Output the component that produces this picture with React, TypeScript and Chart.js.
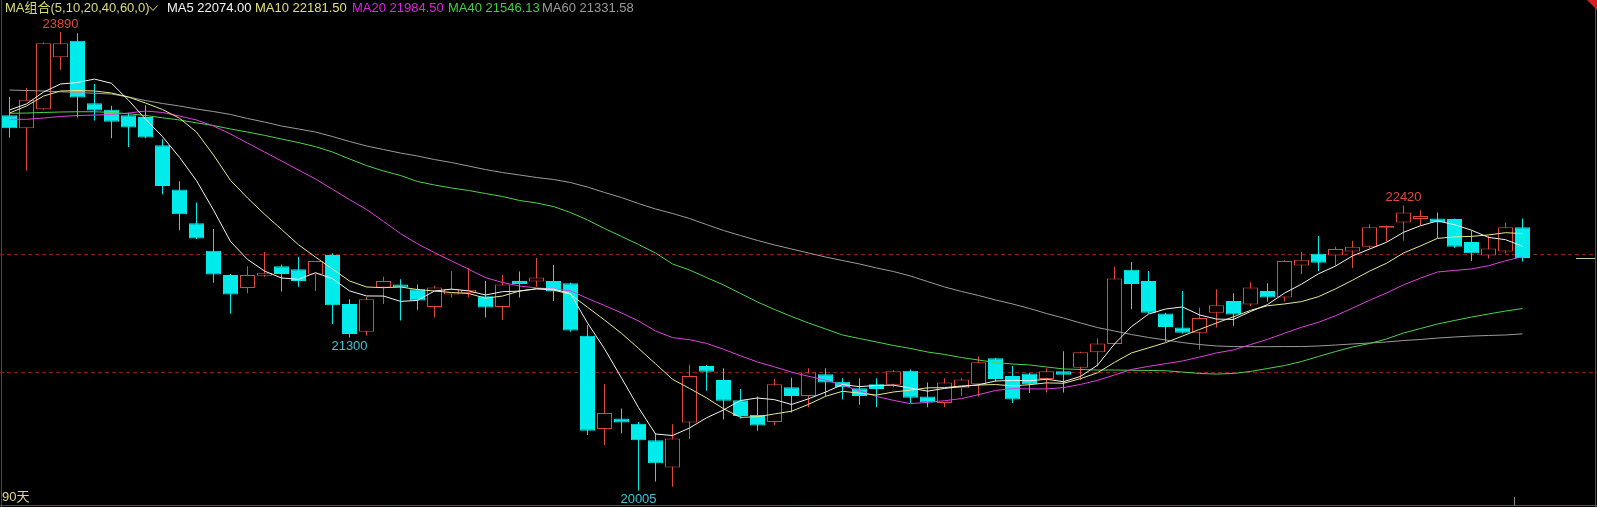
import { useEffect, useRef } from 'react';
import { Chart, registerables } from 'chart.js';

Chart.register(...registerables);

// ---- data ----
const opens = [23185, 23075, 23235, 23675, 23815, 23285, 23230, 23185, 23170, 22930,
  22555, 22270, 22035, 21830, 21720, 21825, 21905, 21880, 21835, 22000,
  21585, 21350, 21725, 21750, 21710, 21560, 21665, 21675, 21650, 21560,
  21780, 21775, 21780, 21760, 21315, 20525, 20615, 20570, 20430, 20200,
  20580, 21060, 20940, 20770, 20645, 20585, 20880, 20805, 20990, 20925,
  20870, 20905, 20900, 21020, 20800, 20745, 20870, 20905, 21125, 20975,
  20995, 20950, 21015, 21045, 21175, 21245, 21875, 21780, 21505, 21385,
  21340, 21510, 21610, 21580, 21695, 21640, 21910, 22010, 21995, 22030,
  22070, 22230, 22275, 22305, 22310, 22305, 22110, 21995, 22030, 22235];
const highs = [23340, 23415, 23800, 23890, 23880, 23450, 23265, 23205, 23270, 22980,
  22625, 22445, 22220, 21840, 21905, 22025, 21920, 21985, 21950, 22015,
  21625, 21645, 21815, 21795, 21750, 21740, 21865, 21890, 21780, 21830,
  21860, 21975, 21915, 21765, 21405, 20905, 20700, 20585, 20490, 20565,
  21070, 21065, 21040, 20865, 20800, 20950, 20960, 21040, 21040, 20955,
  20955, 20955, 21025, 21030, 20920, 20955, 20955, 21140, 21130, 21060,
  21000, 21040, 21185, 21180, 21295, 21900, 21940, 21865, 21510, 21695,
  21555, 21710, 21675, 21770, 21760, 21955, 22025, 22160, 22070, 22120,
  22260, 22250, 22420, 22380, 22360, 22310, 22205, 22160, 22275, 22310];
const lows = [22995, 22715, 23230, 23570, 23165, 23140, 22990, 22915, 22990, 22515,
  22210, 22135, 21765, 21505, 21675, 21815, 21690, 21730, 21695, 21415,
  21300, 21315, 21585, 21445, 21535, 21470, 21640, 21645, 21470, 21450,
  21640, 21730, 21610, 21350, 20475, 20390, 20490, 20005, 20080, 20035,
  20440, 20850, 20605, 20615, 20510, 20560, 20665, 20710, 20805, 20775,
  20730, 20710, 20880, 20745, 20710, 20710, 20805, 20800, 20925, 20745,
  20830, 20835, 20835, 20940, 21055, 21240, 21540, 21505, 21265, 21335,
  21200, 21385, 21400, 21565, 21605, 21605, 21840, 21865, 21910, 21890,
  22055, 22115, 22120, 22250, 22145, 22060, 21950, 21970, 22015, 21945];
const closes = [23075, 23315, 23795, 23795, 23335, 23225, 23130, 23080, 22995, 22585,
  22345, 22140, 21835, 21665, 21830, 21850, 21840, 21780, 21950, 21575,
  21330, 21625, 21780, 21725, 21615, 21725, 21710, 21705, 21555, 21750,
  21755, 21810, 21690, 21360, 20510, 20660, 20580, 20430, 20235, 20445,
  20975, 21010, 20765, 20635, 20555, 20905, 20805, 21005, 20920, 20880,
  20805, 20865, 21015, 20790, 20750, 20920, 20945, 21090, 20950, 20775,
  20905, 21015, 20985, 21175, 21250, 21800, 21755, 21510, 21390, 21340,
  21465, 21575, 21495, 21725, 21640, 21950, 21960, 21935, 22050, 22070,
  22235, 22245, 22360, 22330, 22275, 22070, 22015, 22055, 22235, 21975];

const ma5 = [23229, 23280, 23381, 23449, 23462, 23491, 23455, 23312, 23152, 23003,
  22828, 22630, 22381, 22114, 21963, 21864, 21805, 21794, 21850, 21799,
  21696, 21653, 21652, 21607, 21615, 21695, 21711, 21696, 21661, 21689,
  21694, 21714, 21712, 21673, 21424, 21205, 20958, 20707, 20483, 20470,
  20534, 20620, 20687, 20767, 20788, 20774, 20733, 20781, 20838, 20902,
  20884, 20895, 20897, 20872, 20846, 20869, 20885, 20900, 20932, 20937,
  20934, 20947, 20926, 20971, 21066, 21246, 21393, 21499, 21542, 21560,
  21492, 21457, 21454, 21521, 21580, 21677, 21753, 21841, 21906, 21992,
  22050, 22108, 22192, 22248, 22289, 22257, 22210, 22149, 22130, 22074];
const ma10 = [23203, 23263, 23347, 23390, 23394, 23390, 23373, 23339, 23288, 23233,
  23159, 23042, 22847, 22633, 22483, 22346, 22217, 22087, 21982, 21881,
  21780, 21729, 21723, 21729, 21707, 21695, 21682, 21674, 21634, 21652,
  21695, 21713, 21703, 21667, 21557, 21449, 21336, 21209, 21078, 20947,
  20869, 20789, 20697, 20624, 20629, 20653, 20676, 20734, 20802, 20845,
  20829, 20813, 20839, 20855, 20874, 20876, 20890, 20898, 20902, 20891,
  20901, 20916, 20913, 20952, 21002, 21090, 21170, 21213, 21257, 21313,
  21369, 21424, 21476, 21531, 21570, 21585, 21605, 21647, 21713, 21786,
  21863, 21930, 22017, 22077, 22141, 22153, 22158, 22170, 22189, 22181.5];
const ma20 = [23150, 23150, 23161, 23174, 23182, 23186, 23191, 23203, 23220, 23208,
  23178, 23144, 23093, 23025, 22949, 22873, 22797, 22720, 22644, 22557,
  22469, 22386, 22285, 22181, 22095, 22020, 21950, 21880, 21808, 21767,
  21737, 21721, 21713, 21697, 21632, 21572, 21509, 21441, 21356, 21300,
  21282, 21251, 21201, 21146, 21093, 21052, 21007, 20972, 20940, 20896,
  20849, 20801, 20768, 20740, 20751, 20765, 20783, 20816, 20852, 20868,
  20865, 20865, 20876, 20903, 20938, 20983, 21030, 21056, 21079, 21102,
  21135, 21170, 21195, 21241, 21285, 21337, 21387, 21430, 21485, 21550,
  21616, 21678, 21747, 21804, 21856, 21869, 21882, 21909, 21951, 21984.5];
const ma40 = [23201, 23203, 23208, 23212, 23214, 23214, 23208, 23197, 23182, 23163,
  23144, 23120, 23097, 23068, 23042, 23014, 22983, 22953, 22918, 22873,
  22814, 22758, 22712, 22674, 22623, 22593, 22568, 22547, 22521, 22496,
  22462, 22441, 22411, 22360, 22297, 22225, 22157, 22089, 22017, 21924,
  21873, 21809, 21746, 21674, 21602, 21538, 21479, 21424, 21373, 21322,
  21292, 21263, 21233, 21208, 21178, 21157, 21131, 21110, 21089, 21076,
  21068, 21051, 21034, 21030, 21025, 21025, 21023, 21021, 21019, 21008,
  20996, 20991, 20996, 21013, 21038, 21063, 21097, 21140, 21182, 21220,
  21250, 21288, 21339, 21377, 21415, 21445, 21474, 21500, 21525, 21546.13];
const ma60 = [23398, 23394, 23390, 23383, 23377, 23371, 23364, 23339, 23309, 23284,
  23263, 23237, 23216, 23191, 23157, 23127, 23093, 23068, 23042, 23004,
  22962, 22924, 22894, 22864, 22839, 22809, 22784, 22754, 22724, 22699,
  22678, 22657, 22640, 22614, 22576, 22530, 22487, 22436, 22390, 22352,
  22309, 22258, 22208, 22165, 22123, 22085, 22051, 22017, 21983, 21953,
  21924, 21890, 21860, 21822, 21775, 21729, 21691, 21657, 21619, 21585,
  21547, 21504, 21466, 21424, 21385, 21356, 21326, 21301, 21280, 21258,
  21241, 21229, 21224, 21223, 21223, 21224, 21224, 21229, 21237, 21246,
  21254, 21263, 21275, 21284, 21296, 21305, 21313, 21318, 21322, 21331.58];

const maNames = ['MA5', 'MA10', 'MA20', 'MA40', 'MA60'];
const legendTitle = 'MA组合(5,10,20,40,60,0)';
const periodLabel = '90天';
const gridPrices = [21000, 22000];
const markIdx = [3, 20, 37, 82];
const markKind = ['high', 'low', 'low', 'high'];

// ---- styles ----
const W = 1597;
const H = 507;
const UP = '#e0483c';
const DOWN = '#00ecec';
const maColors = ['#f2f2f2', '#e8e890', '#e040e0', '#4cd44c', '#9a9a9a'];
const legendColors = ['#f2f2f2', '#e0e070', '#e020e0', '#40d040', '#9a9a9a'];
const legendX = [167, 255, 352, 448, 542];
const FONT = '13px "Liberation Sans", "Noto Sans CJK SC", Arial, sans-serif';

export default function App() {
  const ref = useRef<HTMLCanvasElement>(null);

  useEffect(() => {
    const canvas = ref.current;
    if (!canvas) return;
    const n = closes.length;
    const idx = closes.map((_, i) => i);
    const up = (i: number) => closes[i] >= opens[i];
    const mas = [ma5, ma10, ma20, ma40, ma60];

    const overlay = {
      id: 'overlay',
      beforeDraw(chart: any) {
        const c = chart.ctx;
        c.save();
        c.fillStyle = '#000';
        c.fillRect(0, 0, chart.width, chart.height);
        c.restore();
      },
      afterDraw(chart: any) {
        const c = chart.ctx;
        const xs = chart.scales.x;
        const ys = chart.scales.y;
        c.save();
        // frame
        c.lineWidth = 1;
        c.strokeStyle = '#b01c1c';
        c.beginPath();
        c.moveTo(1.5, 0);
        c.lineTo(1.5, H);
        c.stroke();
        c.strokeStyle = '#c81e1e';
        c.beginPath();
        c.moveTo(0, 505.5);
        c.lineTo(W, 505.5);
        c.moveTo(1595.5, 0);
        c.lineTo(1595.5, H);
        c.stroke();
        c.fillStyle = '#d02020';
        c.beginPath();
        c.moveTo(1587, 0);
        c.lineTo(W, 0);
        c.lineTo(W, 10);
        c.closePath();
        c.fill();
        // last price marker at right edge
        const lastY = Math.round(ys.getPixelForValue(closes[n - 1])) + 0.5;
        c.strokeStyle = '#cfc890';
        c.beginPath();
        c.moveTo(1576, lastY);
        c.lineTo(1595, lastY);
        c.stroke();
        // small cursor tick
        const tx = Math.round(xs.getPixelForValue(n - 1.5)) + 0.5;
        c.strokeStyle = '#8a8a8a';
        c.beginPath();
        c.moveTo(tx, 497);
        c.lineTo(tx, 505);
        c.stroke();

        // legend
        c.font = FONT;
        c.textBaseline = 'middle';
        c.textAlign = 'left';
        c.fillStyle = '#dcdc78';
        c.fillText(legendTitle, 5, 8);
        c.strokeStyle = '#dcdc78';
        c.beginPath();
        c.moveTo(149.5, 6.5);
        c.lineTo(153, 10.5);
        c.lineTo(157.5, 5.5);
        c.stroke();
        maNames.forEach((name, k) => {
          const arr = mas[k];
          c.fillStyle = legendColors[k];
          c.fillText(name + ' ' + arr[arr.length - 1].toFixed(2), legendX[k], 8);
        });

        // extreme labels
        c.textAlign = 'center';
        markIdx.forEach((i, k) => {
          const px = xs.getPixelForValue(i);
          if (markKind[k] === 'high') {
            c.fillStyle = UP;
            c.fillText(String(highs[i]), px, ys.getPixelForValue(highs[i]) - 8);
          } else {
            c.fillStyle = '#3cc4d4';
            c.fillText(String(lows[i]), px, ys.getPixelForValue(lows[i]) + 9);
          }
        });

        // period label
        c.textAlign = 'left';
        c.fillStyle = '#e0d890';
        c.fillText(periodLabel, 2, 497);
        c.restore();
      },
    };

    const lineSets = mas.map((arr, k) => ({
      type: 'line' as const,
      label: maNames[k],
      data: arr.map((v, i) => ({ x: i, y: v })),
      borderColor: maColors[k],
      borderWidth: 1,
      pointRadius: 0,
      tension: 0,
      fill: false,
      order: 0,
    }));

    const chart = new Chart(canvas, {
      type: 'bar',
      data: {
        datasets: [
          ...lineSets,
          {
            type: 'bar',
            label: 'body',
            data: idx.map((i) => ({ x: i, y: [opens[i], closes[i]] })) as any,
            backgroundColor: idx.map((i) => (up(i) ? '#000000' : DOWN)),
            borderColor: idx.map((i) => (up(i) ? UP : DOWN)),
            borderWidth: 1,
            borderSkipped: false,
            barThickness: 15,
            grouped: false,
            inflateAmount: 0,
            order: 1,
          } as any,
          {
            type: 'bar',
            label: 'wick',
            data: idx.map((i) => ({ x: i, y: [lows[i], highs[i]] })) as any,
            backgroundColor: idx.map((i) => (up(i) ? UP : DOWN)),
            borderWidth: 0,
            barThickness: 1,
            grouped: false,
            inflateAmount: 0,
            order: 2,
          } as any,
        ],
      },
      options: {
        responsive: false,
        animation: false,
        devicePixelRatio: 1,
        events: [],
        layout: { padding: 0 },
        plugins: { legend: { display: false }, tooltip: { enabled: false } },
        scales: {
          x: {
            type: 'linear',
            display: false,
            offset: false,
            min: -9.5 / 17,
            max: (W - 9.5) / 17,
            bounds: 'data',
          },
          y: {
            type: 'linear',
            display: true,
            min: 24161.1 - H * 8.475,
            max: 24161.1,
            bounds: 'data',
            ticks: { display: false },
            grid: { color: '#8a1c1c', lineWidth: 1, drawTicks: false, tickLength: 0 },
            border: { display: false, dash: [4, 3] },
            afterBuildTicks: (s: any) => {
              s.ticks = gridPrices.map((v) => ({ value: v }));
            },
          },
        },
      } as any,
      plugins: [overlay],
    });

    return () => chart.destroy();
  }, []);

  return (
    <div style={{ position: 'fixed', left: 0, top: 0, width: W, height: H, background: '#000' }}>
      <canvas ref={ref} width={W} height={H} style={{ display: 'block', width: W, height: H }} />
    </div>
  );
}
